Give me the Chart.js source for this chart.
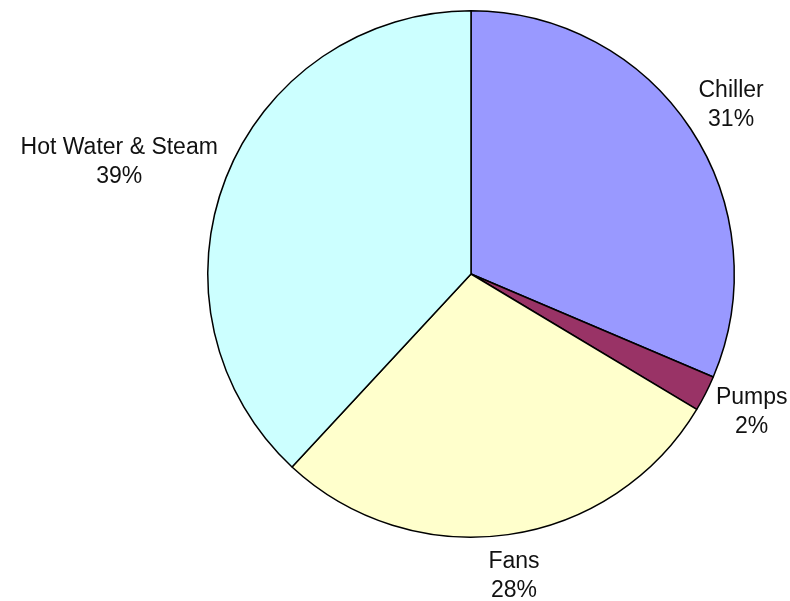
<!DOCTYPE html>
<html>
<head>
<meta charset="utf-8">
<script src="https://cdn.jsdelivr.net/npm/chart.js@4/dist/chart.umd.min.js"></script>
<style>
    body { margin: 0; background: #fff; }
    #wrap { width: 790px; height: 601px; }
</style>
</head>
<body>
<div id="wrap"><canvas id="pieChart" width="790" height="601"></canvas></div>
<script>
// slice sizes (share of the circle), starting at 12 o'clock, clockwise
const categories = ['Chiller', 'Pumps', 'Fans', 'Hot Water & Steam'];
const shares = [31.4, 2.2, 28.3, 38.1];
const percentLabels = ['31%', '2%', '28%', '39%'];
const sliceColors = ['#9999FF', '#993366', '#FFFFCC', '#CCFFFF'];

const LABEL_FONT = "23px 'Liberation Sans', Arial, sans-serif";
const LINE_H = 29;
const GAP = 16;

// draws "Name / xx%" outside each slice, like the spreadsheet export did
const outsideLabels = {
    id: 'outsideLabels',
    afterDatasetsDraw(chart) {
        const ctx = chart.ctx;
        const meta = chart.getDatasetMeta(0);
        ctx.save();
        ctx.font = LABEL_FONT;
        ctx.fillStyle = '#111';
        ctx.textAlign = 'center';
        ctx.textBaseline = 'middle';
        meta.data.forEach((arc, i) => {
            const p = arc.getProps(['x', 'y', 'startAngle', 'endAngle', 'outerRadius'], true);
            const mid = (p.startAngle + p.endAngle) / 2;
            const cos = Math.cos(mid), sin = Math.sin(mid);
            const lines = [categories[i], percentLabels[i]];
            const w = Math.max(...lines.map(t => ctx.measureText(t).width));
            const h = LINE_H * lines.length;
            const ax = p.x + (p.outerRadius + GAP) * cos;
            const ay = p.y + (p.outerRadius + GAP) * sin;
            const cx = ax + (w / 2) * cos;
            const cy = ay + (h * 0.45) * sin;
            lines.forEach((t, k) => {
                ctx.fillText(t, cx, cy - h / 2 + LINE_H * (k + 0.5));
            });
        });
        ctx.restore();
    }
};

const ctx = document.getElementById('pieChart').getContext('2d');
new Chart(ctx, {
    type: 'pie',
    data: {
        labels: categories,
        datasets: [{
            data: shares,
            backgroundColor: sliceColors,
            borderColor: '#000',
            borderWidth: 1.5
        }]
    },
    options: {
        responsive: false,
        animation: false,
        layout: { padding: { left: 207, right: 55, top: 10, bottom: 63 } },
        plugins: {
            legend: { display: false },
            tooltip: { enabled: false }
        }
    },
    plugins: [outsideLabels]
});
</script>
</body>
</html>
